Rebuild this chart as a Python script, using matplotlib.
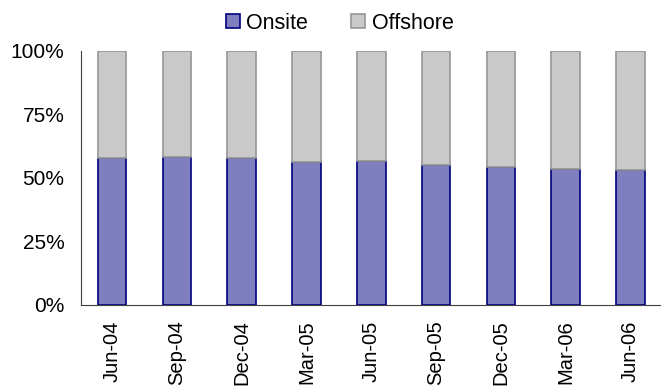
import matplotlib
matplotlib.use("Agg")
import matplotlib.pyplot as plt
import numpy as np
from matplotlib.patches import Patch

categories = ["Jun-04", "Sep-04", "Dec-04", "Mar-05", "Jun-05", "Sep-05", "Dec-05", "Mar-06", "Jun-06"]
onsite = [57.7, 58.4, 57.7, 56.1, 56.8, 55.2, 54.5, 53.6, 53.0]
offshore = [100 - v for v in onsite]
yticks = [0, 25, 50, 75, 100]
ytick_labels = ["0%", "25%", "50%", "75%", "100%"]

plt.rcParams['font.family'] = ['Liberation Sans', 'DejaVu Sans']

fig = plt.figure(figsize=(6.62, 3.89), dpi=100)
ax = fig.add_axes([0.1224, 0.216, 0.875, 0.653])

x = np.arange(len(categories))
w = 0.44
ax.bar(x, onsite, width=w, color="#7f7fbf", edgecolor="#000080", linewidth=1.2, label="Onsite")
ax.bar(x, offshore, width=w, bottom=onsite, color="#c9c9c9", edgecolor="#969696", linewidth=1.2, label="Offshore")

ax.set_xlim(-0.48, 8.46)
ax.set_ylim(0, 100)
ax.set_yticks(yticks)
ax.set_yticklabels(ytick_labels, fontsize=15)
ax.set_xticks(x)
ax.set_xticklabels(categories, rotation=90, fontsize=14.5)
ax.tick_params(axis='both', length=0)
ax.tick_params(axis='y', pad=12)
ax.tick_params(axis='x', pad=11)
for s in ["top", "right"]:
    ax.spines[s].set_visible(False)
ax.spines["left"].set_color("#404040")
ax.spines["bottom"].set_color("#404040")

handles = [Patch(facecolor="#7f7fbf", edgecolor="#000080", linewidth=1.2, label="Onsite"),
           Patch(facecolor="#c9c9c9", edgecolor="#969696", linewidth=1.2, label="Offshore")]
fig.legend(handles=handles, loc="center", bbox_to_anchor=(0.513, 0.94), ncol=2, frameon=False,
           fontsize=15.5, handlelength=0.65, handleheight=0.65, handletextpad=0.3, columnspacing=2.0)

fig.savefig("out.png", dpi=100)
